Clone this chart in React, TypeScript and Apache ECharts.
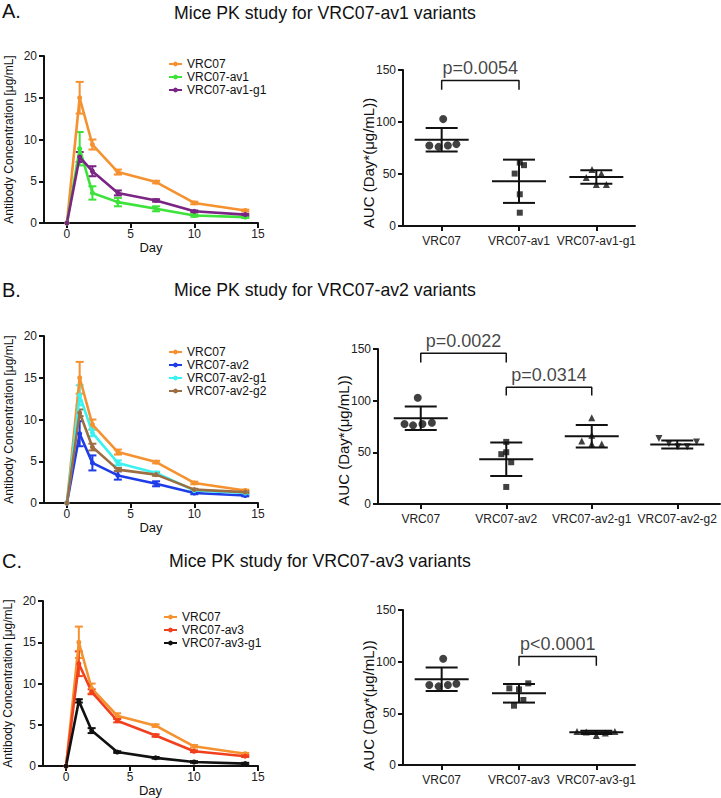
import React, { useEffect, useRef } from 'react';
import * as echarts from 'echarts';

const FONT = '"Liberation Sans", Arial, Helvetica, sans-serif';
const INK = '#111111';

// ---------- PK time-course data (mean ± SEM) ----------
const days = [0, 1, 2, 4, 7, 10, 14];
const dayTicks = [0, 5, 10, 15];

const vrc07Mean = [0, 15.0, 9.4, 6.1, 4.9, 2.4, 1.5];
const vrc07Err = [0, 1.9, 0.6, 0.3, 0.15, 0.15, 0.1];
const av1Mean = [0, 8.9, 3.6, 2.5, 1.7, 0.9, 0.7];
const av1Err = [0, 2.0, 0.8, 0.5, 0.3, 0.15, 0.1];
const av1g1Mean = [0, 7.9, 6.2, 3.6, 2.7, 1.4, 1.0];
const av1g1Err = [0, 0.6, 0.6, 0.3, 0.15, 0.1, 0.1];
const av2Mean = [0, 8.3, 4.8, 3.3, 2.3, 1.2, 0.9];
const av2Err = [0, 1.5, 0.9, 0.5, 0.3, 0.15, 0.1];
const av2g1Mean = [0, 12.9, 8.4, 4.8, 3.6, 1.5, 1.2];
const av2g1Err = [0, 1.2, 0.4, 0.3, 0.15, 0.1, 0.1];
const av2g2Mean = [0, 10.8, 6.7, 4.0, 3.4, 1.6, 1.3];
const av2g2Err = [0, 0.4, 0.4, 0.2, 0.15, 0.1, 0.1];
const av3Mean = [0, 12.4, 9.0, 5.5, 3.7, 1.8, 1.2];
const av3Err = [0, 1.5, 0.3, 0.2, 0.15, 0.1, 0.1];
const av3g1Mean = [0, 7.9, 4.3, 1.7, 1.0, 0.5, 0.3];
const av3g1Err = [0, 0.2, 0.3, 0.1, 0.1, 0.1, 0.1];

// ---------- AUC data (individual mice) ----------
const catsA = ['VRC07', 'VRC07-av1', 'VRC07-av1-g1'];
const catsB = ['VRC07', 'VRC07-av2', 'VRC07-av2-g1', 'VRC07-av2-g2'];
const catsC = ['VRC07', 'VRC07-av3', 'VRC07-av3-g1'];

const aucVrc07 = [77.4, 76.1, 102.8, 77.4, 78.7];
const aucVrc07JitA = [-0.16, -0.04, 0.02, 0.08, 0.19];
const aucVrc07JitB = [-0.19, -0.09, -0.035, 0.02, 0.13];
const aucAv1 = [61, 58.5, 50.4, 30.5, 12.8];
const aucAv1Jit = [0.01, 0.065, -0.056, 0.01, 0.01];
const aucAv1g1 = [54.3, 50.4, 46.6, 39.8, 39.8];
const aucAv1g1Jit = [-0.056, 0.065, -0.13, 0, 0.13];
const aucAv2 = [60.1, 48.2, 50.1, 40.4, 16.5];
const aucAv2Jit = [0, -0.058, 0, 0.058, 0];
const aucAv2g1 = [83.4, 66.6, 61, 58, 58];
const aucAv2g1Jit = [0, 0, -0.117, 0, 0.117];
const aucAv2g2 = [63.4, 58.5, 55.3, 55.3, 60.1];
const aucAv2g2Jit = [-0.214, -0.097, 0.008, 0.117, 0.226];
const aucAv3 = [74.2, 73.2, 79, 62.9, 57.4];
const aucAv3Jit = [-0.125, 0, 0.12, 0.056, -0.065];
const aucAv3g1 = [32.3, 32, 28.5, 31, 32.5];
const aucAv3g1Jit = [-0.25, -0.13, 0, 0.116, 0.24];

// mean and SD
const meanA = [83, 43, 47.2];
const sdA = [11.3, 20.8, 6.5];
const meanB = [83, 43.3, 65.6, 57.5];
const sdB = [11.3, 16.3, 10.9, 3.9];
const meanC = [83, 69.4, 31.6];
const sdC = [11.3, 9, 1.5];

const AUC_NAME = 'AUC (Day*(μg/mL))';

const COLORS = {
  vrc07: '#F5922F',
  av1: '#3DE23A',
  av1g1: '#7A2584',
  av2: '#1E3CE8',
  av2g1: '#3CF2F0',
  av2g2: '#9E6E43',
  av3: '#F0401E',
  av3g1: '#111111',
};

const axisLineStyle = { lineStyle: { color: INK, width: 2 } };
const tickStyle = { show: true, length: 5, lineStyle: { color: INK, width: 2 } };

function lineXAxis(gi: number) {
  return {
    type: 'value', gridIndex: gi, min: -1.8, max: 15,
    name: 'Day', nameLocation: 'middle', nameGap: 17,
    nameTextStyle: { fontFamily: FONT, fontSize: 13, color: INK },
    axisLine: { show: true, onZero: false, ...axisLineStyle },
    axisTick: { ...tickStyle, customValues: dayTicks },
    axisLabel: { customValues: dayTicks, margin: 5, fontFamily: FONT, fontSize: 12, color: '#222' },
    splitLine: { show: false },
  };
}
function lineYAxis(gi: number) {
  return {
    type: 'value', gridIndex: gi, min: 0, max: 20, interval: 5,
    name: 'Antibody Concentration [μg/mL]', nameLocation: 'middle', nameGap: 29,
    nameTextStyle: { fontFamily: FONT, fontSize: 12, color: INK },
    axisLine: { show: true, onZero: false, ...axisLineStyle },
    axisTick: tickStyle,
    axisLabel: { margin: 7, fontFamily: FONT, fontSize: 12, color: '#222' },
    splitLine: { show: false },
  };
}
function aucXAxis(gi: number, cats: string[]) {
  const vals = cats.map((_, i) => i);
  return {
    type: 'value', gridIndex: gi, min: -0.5, max: cats.length - 0.5,
    axisLine: { show: true, onZero: false, ...axisLineStyle },
    axisTick: { ...tickStyle, customValues: vals },
    axisLabel: {
      customValues: vals, margin: 9, fontFamily: FONT, fontSize: 12, color: '#222',
      formatter: (v: number) => cats[Math.round(v)] ?? '',
    },
    splitLine: { show: false },
  };
}
function aucYAxis(gi: number) {
  return {
    type: 'value', gridIndex: gi, min: 0, max: 150, interval: 50,
    axisLine: { show: true, onZero: false, ...axisLineStyle },
    axisTick: tickStyle,
    axisLabel: { margin: 7, fontFamily: FONT, fontSize: 12, color: '#222' },
    splitLine: { show: false },
  };
}

function lineSeries(name: string, mean: number[], color: string, gi: number) {
  return {
    type: 'line', name, xAxisIndex: gi, yAxisIndex: gi,
    data: days.map((d, i) => [d, mean[i]]),
    symbol: 'circle', symbolSize: 5, showSymbol: true,
    lineStyle: { color, width: 2.6 }, itemStyle: { color },
    z: 3,
  };
}
function errSeries(name: string, mean: number[], err: number[], color: string, gi: number) {
  return {
    type: 'custom', name: name + ' SEM', xAxisIndex: gi, yAxisIndex: gi,
    data: days.map((d, i) => [d, mean[i], err[i]]),
    encode: { x: 0, y: 1 },
    z: 3,
    renderItem: (params: any, api: any) => {
      const x = api.value(0), y = api.value(1), e = api.value(2);
      if (!e) return null;
      const t = api.coord([x, y + e]);
      const b = api.coord([x, Math.max(0, y - e)]);
      const hw = 4;
      const st = { stroke: color, lineWidth: 2 };
      return {
        type: 'group',
        children: [
          { type: 'line', shape: { x1: t[0], y1: t[1], x2: b[0], y2: b[1] }, style: st },
          { type: 'line', shape: { x1: t[0] - hw, y1: t[1], x2: t[0] + hw, y2: t[1] }, style: st },
          { type: 'line', shape: { x1: b[0] - hw, y1: b[1], x2: b[0] + hw, y2: b[1] }, style: st },
        ],
      };
    },
  };
}

function dotSeries(name: string, idx: number, vals: number[], jit: number[], symbol: string, size: number, gi: number, rotate = 0) {
  return {
    type: 'scatter', name, xAxisIndex: gi, yAxisIndex: gi,
    data: vals.map((v, i) => [idx + jit[i], v]),
    symbol, symbolSize: size, symbolRotate: rotate,
    itemStyle: { color: INK }, z: 4,
  };
}
function meanSdSeries(name: string, mean: number[], sd: number[], gi: number) {
  return {
    type: 'custom', name, xAxisIndex: gi, yAxisIndex: gi,
    data: mean.map((m, i) => [i, m, sd[i]]),
    encode: { x: 0, y: 1 },
    z: 5,
    renderItem: (params: any, api: any) => {
      const x = api.value(0), m = api.value(1), s = api.value(2);
      const c = api.coord([x, m]);
      const t = api.coord([x, m + s]);
      const b = api.coord([x, m - s]);
      const st = { stroke: INK, lineWidth: 2 };
      return {
        type: 'group',
        children: [
          { type: 'line', shape: { x1: c[0] - 27, y1: c[1], x2: c[0] + 27, y2: c[1] }, style: st },
          { type: 'line', shape: { x1: t[0] - 16, y1: t[1], x2: t[0] + 16, y2: t[1] }, style: st },
          { type: 'line', shape: { x1: b[0] - 16, y1: b[1], x2: b[0] + 16, y2: b[1] }, style: st },
          { type: 'line', shape: { x1: t[0], y1: t[1], x2: b[0], y2: b[1] }, style: st },
        ],
      };
    },
  };
}
function bracketSeries(name: string, x1: number, x2: number, leg: number, top: number, text: string, gi: number) {
  return [
    {
      type: 'line', name, xAxisIndex: gi, yAxisIndex: gi,
      data: [[x1, leg], [x1, top], [x2, top], [x2, leg]],
      symbol: 'none', lineStyle: { color: INK, width: 1.5 }, z: 4,
    },
    {
      type: 'scatter', name: name + ' label', xAxisIndex: gi, yAxisIndex: gi,
      data: [[(x1 + x2) / 2, top]],
      symbolSize: 1, itemStyle: { color: 'rgba(0,0,0,0)' },
      label: { show: true, position: 'top', distance: 3, formatter: text, fontFamily: FONT, fontSize: 18, color: INK },
      z: 4,
    },
  ];
}

const GRIDS = [
  { left: 44, top: 56, width: 214, height: 167 },
  { left: 403, top: 70, width: 232, height: 156 },
  { left: 44, top: 336, width: 214, height: 167 },
  { left: 378, top: 349, width: 342, height: 155 },
  { left: 43, top: 601, width: 215, height: 166 },
  { left: 403, top: 610, width: 232, height: 155 },
];

function aucName(g: { left: number; top: number; height: number }, shift: number) {
  return {
    type: 'text', x: g.left - 35, y: g.top + g.height / 2 + shift, rotation: Math.PI / 2,
    style: { text: AUC_NAME, fontFamily: FONT, fontSize: 15, fill: INK, align: 'center', verticalAlign: 'middle' },
  };
}

export default function App() {
  const ref = useRef<HTMLDivElement>(null);
  useEffect(() => {
    if (!ref.current) return;
    const chart = echarts.init(ref.current, null, { renderer: 'svg' });
    const titleStyle = { fontFamily: FONT, fontSize: 17.7, fontWeight: 'normal', color: INK };
    const legendBase = {
      orient: 'vertical', itemWidth: 13, itemHeight: 6, itemGap: 1, padding: 0, selectedMode: false,
      textStyle: { fontFamily: FONT, fontSize: 12, color: INK, lineHeight: 12 },
    };
    const option: any = {
      animation: false,
      backgroundColor: '#ffffff',
      title: [
        { text: 'A.', left: 2, top: 1, padding: 0, textStyle: { ...titleStyle, fontSize: 20 } },
        { text: 'Mice PK study for VRC07-av1 variants', left: 174, top: 4, padding: 0, textStyle: titleStyle },
        { text: 'B.', left: 2, top: 280, padding: 0, textStyle: { ...titleStyle, fontSize: 20 } },
        { text: 'Mice PK study for VRC07-av2 variants', left: 174, top: 281, padding: 0, textStyle: titleStyle },
        { text: 'C.', left: 2, top: 551, padding: 0, textStyle: { ...titleStyle, fontSize: 20 } },
        { text: 'Mice PK study for VRC07-av3 variants', left: 169, top: 552, padding: 0, textStyle: titleStyle },
      ],
      legend: [
        { ...legendBase, left: 168, top: 58, data: ['VRC07', 'VRC07-av1', 'VRC07-av1-g1'] },
        { ...legendBase, left: 168, top: 346, data: ['VRC07', 'VRC07-av2', 'VRC07-av2-g1', 'VRC07-av2-g2'] },
        { ...legendBase, left: 163, top: 611, data: ['VRC07', 'VRC07-av3', 'VRC07-av3-g1'] },
      ],
      graphic: [aucName(GRIDS[1], 15), aucName(GRIDS[3], 14), aucName(GRIDS[5], 18)],
      grid: GRIDS,
      xAxis: [
        lineXAxis(0), aucXAxis(1, catsA),
        lineXAxis(2), aucXAxis(3, catsB),
        lineXAxis(4), aucXAxis(5, catsC),
      ],
      yAxis: [
        lineYAxis(0), aucYAxis(1),
        lineYAxis(2), aucYAxis(3),
        lineYAxis(4), aucYAxis(5),
      ],
      series: [
        // Panel A line
        lineSeries('VRC07', vrc07Mean, COLORS.vrc07, 0),
        lineSeries('VRC07-av1', av1Mean, COLORS.av1, 0),
        lineSeries('VRC07-av1-g1', av1g1Mean, COLORS.av1g1, 0),
        errSeries('A VRC07', vrc07Mean, vrc07Err, COLORS.vrc07, 0),
        errSeries('A av1', av1Mean, av1Err, COLORS.av1, 0),
        errSeries('A av1g1', av1g1Mean, av1g1Err, COLORS.av1g1, 0),
        // Panel A AUC
        dotSeries('AUC A VRC07', 0, aucVrc07, aucVrc07JitA, 'circle', 8, 1),
        dotSeries('AUC A av1', 1, aucAv1, aucAv1Jit, 'rect', 6, 1),
        dotSeries('AUC A av1g1', 2, aucAv1g1, aucAv1g1Jit, 'triangle', 7, 1),
        meanSdSeries('AUC A mean', meanA, sdA, 1),
        ...bracketSeries('A br', 0, 1, 131, 140, 'p=0.0054', 1),
        // Panel B line
        lineSeries('VRC07', vrc07Mean, COLORS.vrc07, 2),
        lineSeries('VRC07-av2', av2Mean, COLORS.av2, 2),
        lineSeries('VRC07-av2-g1', av2g1Mean, COLORS.av2g1, 2),
        lineSeries('VRC07-av2-g2', av2g2Mean, COLORS.av2g2, 2),
        errSeries('B VRC07', vrc07Mean, vrc07Err, COLORS.vrc07, 2),
        errSeries('B av2', av2Mean, av2Err, COLORS.av2, 2),
        errSeries('B av2g1', av2g1Mean, av2g1Err, COLORS.av2g1, 2),
        errSeries('B av2g2', av2g2Mean, av2g2Err, COLORS.av2g2, 2),
        // Panel B AUC
        dotSeries('AUC B VRC07', 0, aucVrc07, aucVrc07JitB, 'circle', 8, 3),
        dotSeries('AUC B av2', 1, aucAv2, aucAv2Jit, 'rect', 6, 3),
        dotSeries('AUC B av2g1', 2, aucAv2g1, aucAv2g1Jit, 'triangle', 7, 3),
        dotSeries('AUC B av2g2', 3, aucAv2g2, aucAv2g2Jit, 'triangle', 7, 3, 180),
        meanSdSeries('AUC B mean', meanB, sdB, 3),
        ...bracketSeries('B br1', 0, 1, 137, 146, 'p=0.0022', 3),
        ...bracketSeries('B br2', 1, 2, 105, 113, 'p=0.0314', 3),
        // Panel C line
        lineSeries('VRC07', vrc07Mean, COLORS.vrc07, 4),
        lineSeries('VRC07-av3', av3Mean, COLORS.av3, 4),
        lineSeries('VRC07-av3-g1', av3g1Mean, COLORS.av3g1, 4),
        errSeries('C VRC07', vrc07Mean, vrc07Err, COLORS.vrc07, 4),
        errSeries('C av3', av3Mean, av3Err, COLORS.av3, 4),
        errSeries('C av3g1', av3g1Mean, av3g1Err, COLORS.av3g1, 4),
        // Panel C AUC
        dotSeries('AUC C VRC07', 0, aucVrc07, aucVrc07JitA, 'circle', 8, 5),
        dotSeries('AUC C av3', 1, aucAv3, aucAv3Jit, 'rect', 6, 5),
        dotSeries('AUC C av3g1', 2, aucAv3g1, aucAv3g1Jit, 'triangle', 7, 5),
        meanSdSeries('AUC C mean', meanC, sdC, 5),
        ...bracketSeries('C br', 1, 2, 96, 105, 'p<0.0001', 5),
      ],
    };
    chart.setOption(option);
    return () => chart.dispose();
  }, []);
  return <div ref={ref} style={{ position: 'absolute', left: 0, top: 0, width: 721, height: 798 }} />;
}
